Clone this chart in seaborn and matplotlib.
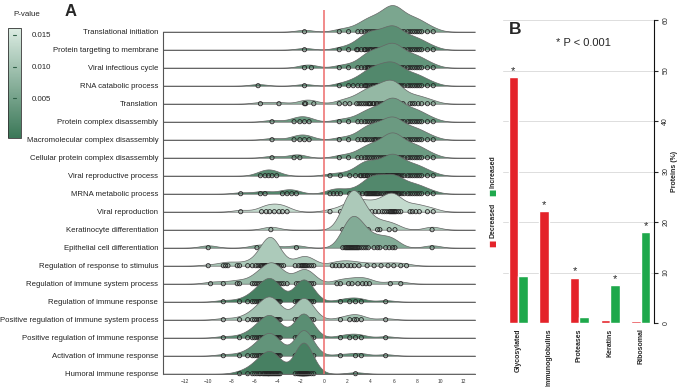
import numpy as np
import pandas as pd
import matplotlib
matplotlib.use('Agg')
import matplotlib.pyplot as plt
import matplotlib.colors as mcolors
import seaborn as sns

sns.set_style('white')
plt.rcParams['font.family'] = ['Liberation Sans', 'DejaVu Sans']

# ---------------- panel A : GO terms, log2 fold change of member proteins ----------------
terms = ['Translational initiation', 'Protein targeting to membrane', 'Viral infectious cycle',
         'RNA catabolic process', 'Translation', 'Protein complex disassembly',
         'Macromolecular complex disassembly', 'Cellular protein complex disassembly',
         'Viral reproductive process', 'MRNA metabolic process', 'Viral reproduction',
         'Keratinocyte differentiation', 'Epithelial cell differentiation',
         'Regulation of response to stimulus', 'Regulation of immune system process',
         'Regulation of immune response', 'Positive regulation of immune system process',
         'Positive regulation of immune response', 'Activation of immune response',
         'Humoral immune response']
pvals = [0.0057, 0.0022, 0.0030, 0.0013, 0.0083, 0.0039, 0.0040, 0.0040, 0.0022, 0.0013,
         0.0135, 0.0109, 0.0065, 0.0110, 0.0090, 0.0001, 0.0100, 0.0022, 0.0030, 0.0001]

ribo_pos = [1.3, 2.1, 2.9, 3.2, 3.5, 3.7, 3.9, 4.1, 4.3, 4.5, 4.7, 4.9, 5.1, 5.3, 5.4, 5.5,
            5.6, 5.7, 5.8, 5.9, 6.0, 6.1, 6.2, 6.3, 6.4, 6.5, 6.7, 6.9, 7.2, 7.4, 7.6, 7.8,
            8.0, 8.2, 8.4, 8.9, 9.4]
kerat_pos = [1.6, 1.8, 1.9, 2.0, 2.1, 2.2, 2.3, 2.4, 2.5, 2.6, 2.7, 2.8, 2.9, 3.0, 3.2,
             3.4, 3.6, 3.8, 4.6, 4.8, 5.6, 6.1, 9.3]
immune_left = [-8.7, -7.3, -6.6, -6.2, -6.0, -5.8, -5.6, -5.5, -5.3, -5.2, -5.1, -5.0, -4.9,
               -4.8, -4.8, -4.7, -4.6, -4.5, -4.4, -4.3, -4.2, -4.1, -4.0, -3.9, -3.8]
immune_right = [-2.5, -2.3, -2.2, -2.1, -2.0, -1.9, -1.9, -1.8, -1.8, -1.7, -1.7, -1.6, -1.5,
                -1.4, -1.3, -1.1, -0.9]

fc_translational_init = [-1.7] + ribo_pos
fc_protein_targeting = [-1.7] + ribo_pos + [2.8, 3.5, 4.0, 4.4]
fc_viral_infectious = [-1.7, -1.1] + ribo_pos + [3.8, 4.4]
fc_rna_catabolic = [-5.7, -1.7] + ribo_pos + [2.5, 3.6, 4.2, 4.5, 4.9]
fc_translation = [-5.5, -3.9, -1.7, -1.6, -0.9, 1.3, 1.8, 2.2, 2.8, 3.0, 3.2, 3.4, 3.6, 3.8,
                  3.9, 4.0, 4.2, 4.3, 4.5, 4.6, 4.8, 5.0, 5.1, 5.2, 5.3, 5.4, 5.5, 5.6, 5.7,
                  5.8, 5.9, 6.0, 6.1, 6.2, 6.3, 6.4, 6.5, 6.6, 6.8, 7.4, 7.6, 7.8, 8.1, 8.4,
                  8.9, 9.4]
fc_protein_disassembly = [-4.5, -2.6, -2.1, -1.7, -1.3] + ribo_pos
fc_macromol_disassembly = [-4.5, -2.6, -2.1, -1.7, -1.3] + ribo_pos + [3.5, 4.4]
fc_cellular_disassembly = [-4.5, -2.6, -2.1] + ribo_pos
fc_viral_repro_process = [-5.5, -5.1, -4.8, -4.5, -4.1, 0.5, 1.4, 2.2, 2.7, 3.1, 3.4, 3.7] + ribo_pos[3:]
fc_mrna_metabolic = [-7.2, -5.5, -5.1, -3.6, -3.2, -2.8, -2.4, 0.5, 0.8, 1.1, 1.4, 2.2, 2.5,
                     3.0, 3.3, 3.6, 3.8, 4.0, 4.2, 4.4, 4.6] + ribo_pos[5:]
fc_viral_reproduction = [-7.2, -5.4, -5.0, -4.7, -4.3, -3.9, -3.6, -3.2, 0.5, 1.4, 2.0, 2.2,
                         2.4, 2.6, 2.8, 3.0, 3.3, 3.6, 3.8, 4.1, 4.4, 4.7, 5.0, 5.2, 5.4, 5.6,
                         5.7, 5.8, 5.9, 6.0, 6.1, 6.2, 6.4, 6.6, 7.4, 7.6, 7.9, 8.2, 8.9, 9.4]
fc_keratinocyte = [-4.6] + kerat_pos
fc_epithelial = [-10.0, -5.8, -4.6, -2.4] + kerat_pos + [4.3, 5.3, 5.9]
fc_resp_stimulus = [-10.0, -8.7, -8.5, -8.3, -7.5, -7.3, -6.6, -6.2, -5.9, -5.7, -5.5, -5.4,
                    -5.3, -5.2, -5.1, -5.0, -5.0, -4.9, -4.9, -4.9, -4.8, -4.8, -4.8, -4.7,
                    -4.7, -4.7, -4.6, -4.6, -4.6, -4.5, -4.5, -4.5, -4.4, -4.4, -4.3, -4.3,
                    -4.2, -4.1, -4.0, -3.9, -3.7, -3.5, -2.5, -2.2, -2.0, -1.9, -1.8, -1.7,
                    -1.6, -1.5, -1.3, -1.1, -0.9, 0.7, 1.0, 1.3, 1.6, 2.0, 2.3, 2.6, 3.0,
                    3.7, 4.3, 4.9, 5.5, 6.0, 6.6, 7.1]
fc_reg_immune_system = [-9.8, -8.7, -7.5, -7.3, -6.2, -6.0, -5.8, -5.6, -5.4, -5.2, -5.0,
                        -4.9, -4.8, -4.7, -4.6, -4.5, -4.5, -4.4, -4.3, -4.2, -4.1, -3.9,
                        -3.7, -3.5, -3.2, -2.4, -2.2, -2.0, -1.9, -1.8, -1.7, -1.6, -1.5,
                        -1.3, -1.1, -0.9, 1.1, 1.4, 2.1, 2.4, 2.9, 3.3, 3.6, 3.9, 5.7, 6.6]
fc_reg_immune_resp = immune_left + immune_right + [1.4, 2.2, 2.7, 3.2, 5.3]
fc_pos_reg_immune_system = immune_left + immune_right + [1.4, 2.2, 2.6, 2.8, 3.2, 5.3]
fc_pos_reg_immune_resp = immune_left + immune_right + [-2.0, -1.8, 1.4, 2.2, 2.7, 3.2, 5.3]
fc_activation_immune = immune_left + immune_right + [-2.0, -1.8, -1.6, 1.4, 2.7, 3.2, 5.3]
fc_humoral = immune_left[1:] + immune_right + [-2.1, -2.0, -1.9, -1.8, -1.7, -1.6, -1.5, 2.7]

fold_changes = [fc_translational_init, fc_protein_targeting, fc_viral_infectious,
                fc_rna_catabolic, fc_translation, fc_protein_disassembly,
                fc_macromol_disassembly, fc_cellular_disassembly, fc_viral_repro_process,
                fc_mrna_metabolic, fc_viral_reproduction, fc_keratinocyte, fc_epithelial,
                fc_resp_stimulus, fc_reg_immune_system, fc_reg_immune_resp,
                fc_pos_reg_immune_system, fc_pos_reg_immune_resp, fc_activation_immune,
                fc_humoral]

# ---------------- panel B : protein classes ----------------
classes = ['Glycosylated', 'Immunoglobulins', 'Proteases', 'Keratins', 'Ribosomal']
decreased = [48.7, 22.2, 9.0, 0.5, 0.3]
increased = [9.3, 0.0, 1.2, 7.5, 18.0]
signif = ['Decreased', 'Decreased', 'Decreased', 'Increased', 'Increased']

W, H = 677, 387
fig = plt.figure(figsize=(W / 100, H / 100), dpi=100)


def add_ax(x0, y0, w, h):
    # axes placed in pixel units measured from the top-left corner
    return fig.add_axes([x0 / W, 1 - (y0 + h) / H, w / W, h / H])


xlim = (-13.9, 13.0)
row0, row_step = 31.7, 18.0
nrow = len(terms)
cmap = mcolors.LinearSegmentedColormap.from_list('pv', ['#3a7757', '#dcece3'])
norm = mcolors.Normalize(vmin=-0.0013, vmax=0.0161)

joint_bw = 0.72       # one kernel width shared by every ridge
dens_per_px = 0.0078
for i, (vals, p) in enumerate(zip(fold_changes, pvals)):
    base = row0 + i * row_step
    ax = add_ax(163, base - 80, 312, 84)
    ax.set_xlim(xlim)
    ax.set_ylim(-4 * dens_per_px, 80 * dens_per_px)
    ax.axis('off')
    ax.patch.set_alpha(0)
    sns.kdeplot(x=vals, ax=ax, fill=True, color=cmap(norm(p)), alpha=1,
                edgecolor='#666666', linewidth=0.5,
                bw_method=joint_bw / np.std(vals, ddof=1), cut=30, clip=xlim)
    sns.scatterplot(x=vals, y=np.zeros(len(vals)), ax=ax, s=9, marker='o',
                    facecolor='none', edgecolor='#222222', linewidth=0.6,
                    clip_on=False, zorder=3)

axA = add_ax(163, 10, 312, 373.7 - 10)
axA.set_zorder(5)
axA.patch.set_alpha(0)
axA.set_xlim(xlim)
axA.set_ylim(0, (373.7 - 10) / row_step)
axA.set_yticks(range(nrow))
axA.set_yticklabels(terms[::-1], fontsize=5.55, color='#222222')
axA.set_xticks(range(-12, 13, 2))
axA.tick_params(axis='x', labelsize=3.5, length=2, width=0.5, pad=2, colors='#333333')
axA.tick_params(axis='y', length=2, width=0.6, pad=1.5)
axA.axvline(0, color='#ee6b6b', lw=1.1)
for s in ['top', 'right']:
    axA.spines[s].set_visible(False)
axA.spines['left'].set_bounds(0, nrow - 1)
axA.spines['left'].set_color('#555555')
axA.spines['left'].set_linewidth(0.8)
axA.spines['bottom'].set_color('#666666')
axA.spines['bottom'].set_linewidth(0.6)

# colorbar for P-value
cax = add_ax(8, 28, 13, 110)
cb = fig.colorbar(plt.cm.ScalarMappable(norm=norm, cmap=cmap), cax=cax)
cb_ticks = [0.005, 0.010, 0.015]
cb.set_ticks(cb_ticks)
cb.set_ticklabels(['%.3f' % t for t in cb_ticks])
cax.tick_params(length=0, labelsize=5.7, pad=8)
for t in cb_ticks:
    cax.axhline(t, 0.35, 0.65, color='#2f5f47', lw=0.8)
cb.outline.set_linewidth(0.6)
cb.outline.set_edgecolor('#333333')
cax.text(1.46, 1.12, 'P-value', transform=cax.transAxes, ha='center', va='center', fontsize=5.7)

fig.text(71 / W, 1 - 12 / H, 'A', fontsize=12, weight='bold', ha='center', va='center')

# ---------------- panel B drawing ----------------
axB = add_ax(503, 20, 151, 303)
dfB = pd.DataFrame({'Class': classes * 2,
                    'Change': ['Decreased'] * len(classes) + ['Increased'] * len(classes),
                    'Percent': decreased + increased})
pal = {'Decreased': '#e4232a', 'Increased': '#1ea84b'}
sns.barplot(data=dfB, x='Class', y='Percent', hue='Change', hue_order=['Decreased', 'Increased'],
            palette=pal, width=0.62, gap=0, errorbar=None, saturation=1, legend=False, ax=axB)
axB.set_xlim(-0.49, 4.43)
axB.set_ylim(0, 60)
axB.set_yticks(range(0, 61, 10))
axB.yaxis.tick_right()
axB.yaxis.set_label_position('right')
axB.set_ylabel('Proteins (%)', fontsize=5, weight='bold', rotation=90, labelpad=1)
axB.set_xlabel('')
axB.tick_params(axis='y', labelsize=5, length=3, width=0.8, pad=3, labelrotation=90)
axB.tick_params(axis='x', labelsize=5, length=0, pad=4, labelrotation=90)
for lab in axB.get_xticklabels():
    lab.set_fontweight('bold')
for lab in axB.get_yticklabels():
    lab.set_va('center')
axB.grid(axis='y', color='#dddddd', lw=0.7)
axB.set_axisbelow(True)
for s in ['top', 'left', 'bottom']:
    axB.spines[s].set_visible(False)
axB.spines['right'].set_color('#111111')
axB.spines['right'].set_linewidth(0.8)

hue_levels = ['Decreased', 'Increased']
for h, cont in zip(hue_levels, axB.containers):
    for cls, bar in zip(classes, cont):
        if signif[classes.index(cls)] == h:
            axB.text(bar.get_x() + bar.get_width() / 2, bar.get_height() + 1.2, '*',
                     ha='center', va='center', fontsize=8)

# legend drawn as rotated text (panel is laid out sideways)
for lbl, yq, yt in [('Decreased', 0.264, 0.28), ('Increased', 0.432, 0.446)]:
    axB.text(-0.066, yq, '\u25a0', color=pal[lbl], transform=axB.transAxes, rotation=90,
             ha='center', va='center', fontsize=5.5, family='DejaVu Sans')
    axB.text(-0.066, yt, lbl, transform=axB.transAxes, rotation=90, ha='center', va='bottom',
             fontsize=5, weight='bold')

fig.text(515 / W, 1 - 30 / H, 'B', fontsize=12.5, weight='bold', ha='center', va='center')
fig.text(583 / W, 1 - 43 / H, '* P < 0.001', fontsize=8, ha='center', va='center')

fig.savefig('out.png', dpi=100)
